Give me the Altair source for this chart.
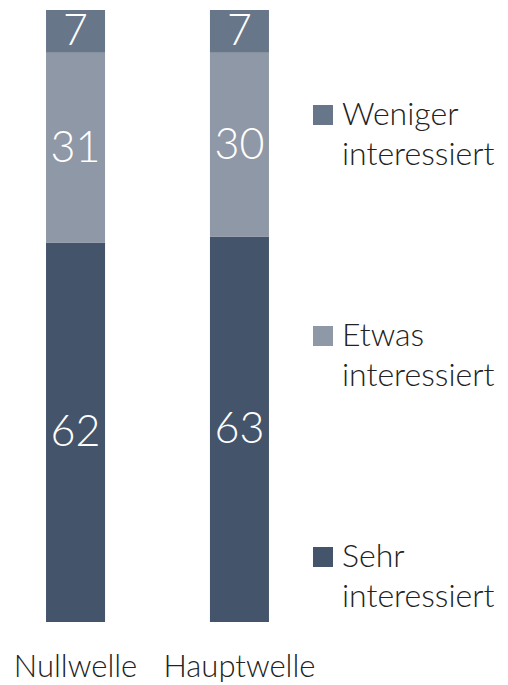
import altair as alt
import pandas as pd

waves = ["Nullwelle", "Hauptwelle"]
categories = ["Sehr interessiert", "Etwas interessiert", "Weniger interessiert"]
sehr = [62, 63]
etwas = [31, 30]
weniger = [7, 7]
colors = ["#44546A", "#8F98A6", "#687689"]

rows = []
for i, w in enumerate(waves):
    for k, (cat, vals) in enumerate(zip(categories, [sehr, etwas, weniger])):
        rows.append({"Welle": w, "Kategorie": cat, "Wert": vals[i], "ord": k})
df = pd.DataFrame(rows)

FONT = "Lato"

base = alt.Chart(df).transform_stack(
    stack="Wert", groupby=["Welle"], as_=["y0", "y1"], sort=[alt.SortField("ord", "ascending")]
).transform_calculate(mid="(datum.y0 + datum.y1) / 2")

x = alt.X(
    "Welle:N",
    sort=waves,
    title=None,
    scale=alt.Scale(paddingInner=0.64, paddingOuter=0.232),
    axis=alt.Axis(
        labelAngle=0, ticks=False, domain=False, labelPadding=30,
        labelFont=FONT, labelFontSize=31, labelFontWeight=300, labelColor="#222222",
    ),
)
yscale = alt.Scale(domain=[0, 100], nice=False, zero=True)

bars = base.mark_bar(strokeWidth=0).encode(
    x=x,
    y=alt.Y("y0:Q", scale=yscale, axis=None),
    y2="y1:Q",
    color=alt.Color(
        "Kategorie:N",
        scale=alt.Scale(domain=categories, range=colors),
        sort=categories,
        legend=alt.Legend(
            title=None,
            orient="none",
            legendX=299,
            legendY=89,
            values=list(reversed(categories)),
            symbolType="square",
            symbolSize=400,
            symbolStrokeWidth=0,
            symbolOpacity=1,
            labelFont=FONT,
            labelFontSize=32,
            labelFontWeight=300,
            labelColor="#222222",
            labelExpr="split(datum.label, ' ')",
            labelBaseline="middle",
            labelOffset=3,
            rowPadding=149,
            padding=0,
            labelLimit=300,
        ),
    ),
)

labels = base.mark_text(
    color="white", font=FONT, fontSize=43, fontWeight=300, baseline="middle", dy=1
).encode(
    x=alt.X("Welle:N", sort=waves),
    y=alt.Y("mid:Q", scale=yscale),
    text="Wert:Q",
)

chart = (
    alt.layer(bars, labels)
    .properties(width=299, height=612, padding={"left": 0, "top": 2, "right": 0, "bottom": 0})
    .configure(style={"guide-label": {"lineHeight": 40}}, view={"stroke": "transparent", "strokeWidth": 0})
)

chart.save("out.html", embed_options={"renderer": "svg", "actions": False})
